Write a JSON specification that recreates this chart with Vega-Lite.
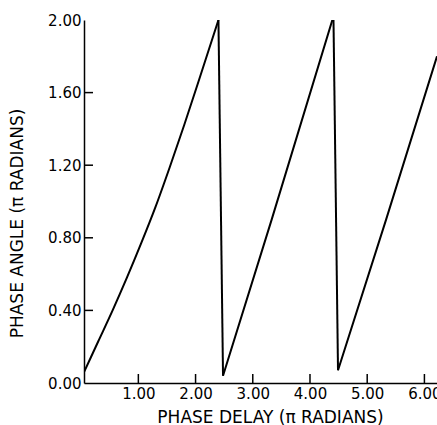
{
  "$schema": "https://vega.github.io/schema/vega-lite/v6.json",
  "autosize": "none",
  "width": 353,
  "height": 363,
  "padding": {"left": 84, "top": 20, "right": 0, "bottom": 42},
  "background": "white",
  "datasets": {
    "curve": [
      {"seg": "a", "x": 0.05, "y": 0.06},
      {"seg": "a", "x": 0.3, "y": 0.23},
      {"seg": "a", "x": 0.55, "y": 0.4},
      {"seg": "a", "x": 0.8, "y": 0.58},
      {"seg": "a", "x": 1.05, "y": 0.77},
      {"seg": "a", "x": 1.3, "y": 0.97},
      {"seg": "a", "x": 1.55, "y": 1.19},
      {"seg": "a", "x": 1.8, "y": 1.42},
      {"seg": "a", "x": 2.05, "y": 1.66},
      {"seg": "a", "x": 2.4, "y": 2.0},
      {"seg": "b", "x": 2.4, "y": 2.0},
      {"seg": "b", "x": 2.48, "y": 0.04},
      {"seg": "c", "x": 2.48, "y": 0.04},
      {"seg": "c", "x": 3.33, "y": 0.9},
      {"seg": "c", "x": 4.41, "y": 2.02},
      {"seg": "d", "x": 4.41, "y": 2.02},
      {"seg": "d", "x": 4.49, "y": 0.07},
      {"seg": "e", "x": 4.49, "y": 0.07},
      {"seg": "e", "x": 5.33, "y": 0.9},
      {"seg": "e", "x": 6.22, "y": 1.8}
    ],
    "xticks": [{"v": 1}, {"v": 2}, {"v": 3}, {"v": 4}, {"v": 5}, {"v": 6}],
    "yticks": [{"v": 0.4}, {"v": 0.8}, {"v": 1.2}, {"v": 1.6}]
  },
  "layer": [
    {
      "data": {"name": "curve"},
      "mark": {"type": "line", "color": "black", "strokeWidth": 2, "clip": true, "interpolate": "monotone"},
      "encoding": {
        "x": {
          "field": "x", "type": "quantitative",
          "scale": {"domain": [0.05, 6.22], "nice": false, "zero": false},
          "axis": {
            "values": [1, 2, 3, 4, 5, 6], "format": ".2f",
            "title": "PHASE DELAY (π RADIANS)",
            "titlePadding": 8,
            "titleX": 186,
            "ticks": false,
            "labelPadding": 3
          }
        },
        "y": {
          "field": "y", "type": "quantitative",
          "scale": {"domain": [0, 2], "nice": false},
          "axis": {
            "values": [0, 0.4, 0.8, 1.2, 1.6, 2.0], "format": ".2f",
            "title": "PHASE ANGLE (π RADIANS)",
            "titlePadding": 21,
            "titleY": 203,
            "ticks": false,
            "labelPadding": 3
          }
        },
        "detail": {"field": "seg", "type": "nominal"}
      }
    },
    {
      "data": {"name": "xticks"},
      "mark": {"type": "tick", "orient": "vertical", "color": "black", "size": 9, "thickness": 1.5, "yOffset": -4.5, "opacity": 1},
      "encoding": {
        "x": {"field": "v", "type": "quantitative"},
        "y": {"datum": 0}
      }
    },
    {
      "data": {"name": "yticks"},
      "mark": {"type": "tick", "orient": "horizontal", "color": "black", "size": 9, "thickness": 1.5, "xOffset": 4.5, "opacity": 1},
      "encoding": {
        "x": {"datum": 0.05},
        "y": {"field": "v", "type": "quantitative"}
      }
    }
  ],
  "config": {
    "view": {"stroke": null},
    "axis": {
      "grid": false,
      "domainColor": "black",
      "domainWidth": 1.5,
      "labelFont": "DejaVu Sans",
      "labelFontSize": 15,
      "labelColor": "black",
      "titleFont": "DejaVu Sans",
      "titleFontSize": 17,
      "titleFontWeight": "normal",
      "titleColor": "black"
    }
  }
}
